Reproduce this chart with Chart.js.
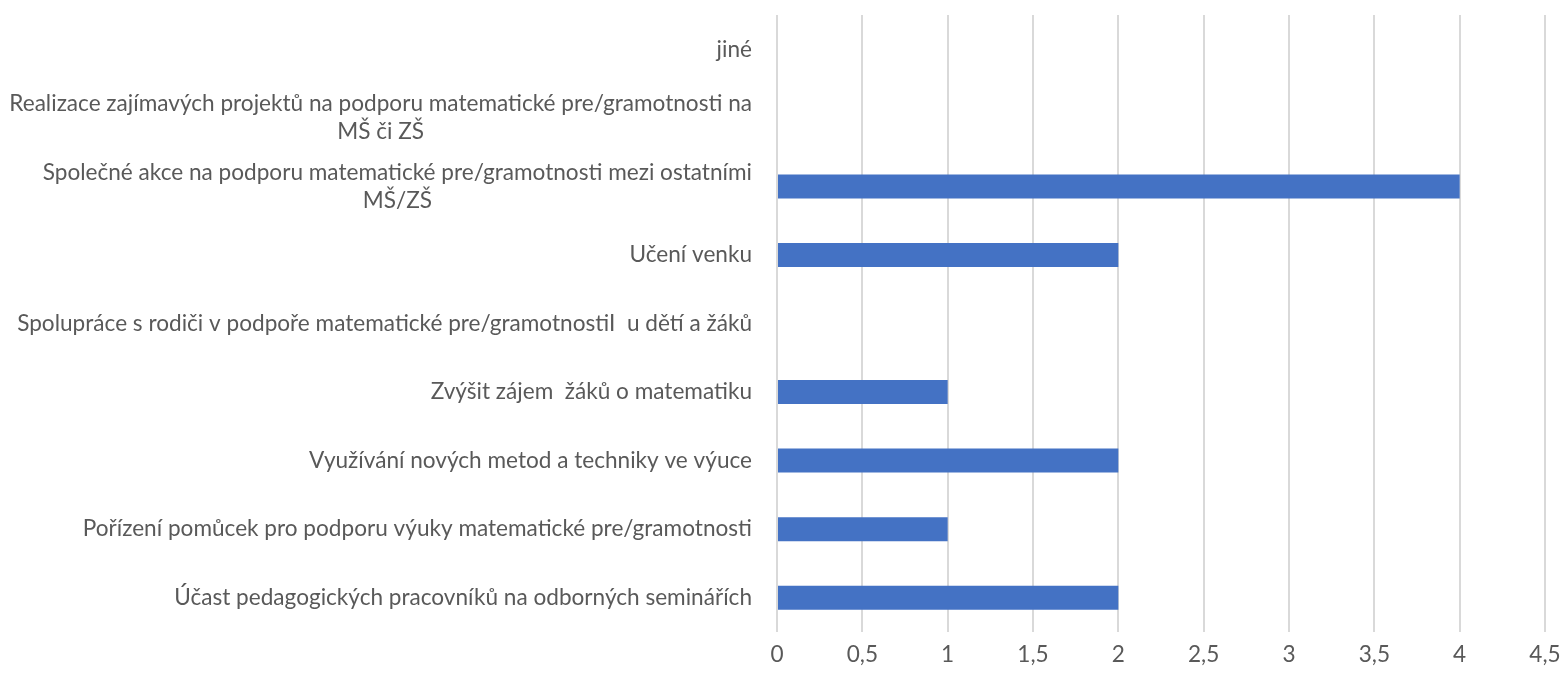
<!DOCTYPE html>
<html>
<head>
<meta charset="utf-8">
<script src="https://cdn.jsdelivr.net/npm/chart.js@4"></script>
<style>
  html, body { margin: 0; padding: 0; background: #fff; }
  #wrap { width: 1565px; height: 683px; }
</style>
</head>
<body>
<div id="wrap"><canvas id="chart"></canvas></div>
<script>
// categories top to bottom
const categories = [
    "jiné",
    ["Realizace zajímavých projektů na podporu matematické pre/gramotnosti na", "MŠ či ZŠ"],
    ["Společné akce na podporu matematické pre/gramotnosti mezi ostatními", "MŠ/ZŠ"],
    "Učení venku",
    "Spolupráce s rodiči v podpoře matematické pre/gramotnostiI  u dětí a žáků",
    "Zvýšit zájem  žáků o matematiku",
    "Využívání nových metod a techniky ve výuce",
    "Pořízení pomůcek pro podporu výuky matematické pre/gramotnosti",
    "Účast pedagogických pracovníků na odborných seminářích"
];
const values = [0, 0, 4, 2, 0, 1, 2, 1, 2];
const xTickLabels = ["0", "0,5", "1", "1,5", "2", "2,5", "3", "3,5", "4", "4,5"];

const fontFamily = "Lato, 'Noto Sans', sans-serif";
const textColor = "#595959";

// fit font size so the widest label line is about as wide as in the original
const probe = document.createElement("canvas").getContext("2d");
probe.font = "20px " + fontFamily;
const fontSize = Math.round(20 * 744 / probe.measureText(categories[1][0]).width * 10) / 10;
const lineH = 28;

// y labels: right-aligned blocks, lines centered inside each block
const yLabels = {
    id: "yLabels",
    afterDraw(chart) {
        const scale = chart.scales.y;
        const ctx = chart.ctx;
        ctx.save();
        ctx.font = fontSize + "px " + fontFamily;
        ctx.fillStyle = textColor;
        ctx.textAlign = "center";
        ctx.textBaseline = "middle";
        categories.forEach((lab, i) => {
            const lines = Array.isArray(lab) ? lab : [lab];
            const w = Math.max(...lines.map(l => ctx.measureText(l).width));
            const cx = scale.right - 25 - w / 2;
            const cy = scale.getPixelForTick(i);
            lines.forEach((l, k) => {
                ctx.fillText(l, cx, cy + (k - (lines.length - 1) / 2) * lineH);
            });
        });
        ctx.restore();
    }
};

const ctx = document.getElementById("chart").getContext("2d");
new Chart(ctx, {
    type: "bar",
    data: {
        labels: categories,
        datasets: [{
            data: values,
            backgroundColor: "#4472C4",
            barPercentage: 0.35,
            categoryPercentage: 1
        }]
    },
    options: {
        indexAxis: "y",
        responsive: true,
        maintainAspectRatio: false,
        animation: false,
        layout: { padding: { top: 15, right: 20, left: 0, bottom: 0 } },
        plugins: {
            legend: { display: false },
            tooltip: { enabled: false }
        },
        scales: {
            x: {
                min: 0,
                max: 4.5,
                ticks: {
                    stepSize: 0.5,
                    padding: 9,
                    color: textColor,
                    font: { family: fontFamily, size: fontSize },
                    callback: (v, i) => xTickLabels[i]
                },
                grid: { color: "#d9d9d9", lineWidth: 2, drawTicks: false },
                border: { display: false },
                afterFit: s => {
                    s.height = 51;
                    s.paddingRight = 0;
                    s.paddingLeft = 0;
                }
            },
            y: {
                ticks: { display: false },
                grid: { display: false },
                border: { display: false },
                afterFit: s => { s.width = 777; }
            }
        }
    },
    plugins: [yLabels]
});
</script>
</body>
</html>
